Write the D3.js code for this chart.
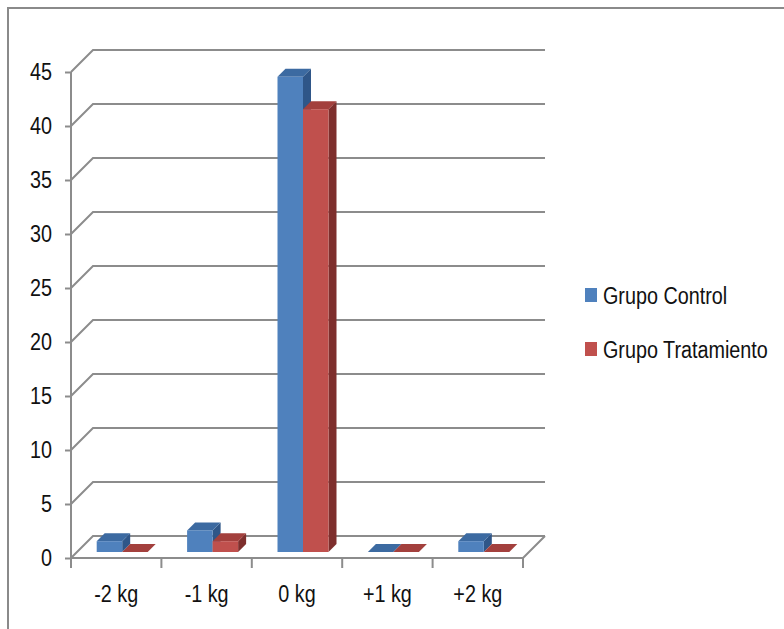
<!DOCTYPE html>
<meta charset="utf-8">
<head>
  <script src="https://cdn.jsdelivr.net/npm/d3@7"></script>
</head>
<style>
  body { margin: 0; background: #fff; }
  text { font-family: "Liberation Sans", Arial, sans-serif; fill: #111; }
</style>
<body></body>
<script>
var categories = ["-2 kg", "-1 kg", "0 kg", "+1 kg", "+2 kg"];
var control = [1, 2, 44, 0, 1];
var tratamiento = [0, 1, 41, 0, 0];
var seriesNames = ["Grupo Control", "Grupo Tratamiento"];
var yTicks = [0, 5, 10, 15, 20, 25, 30, 35, 40, 45];

var width = 784, height = 629;
var depth = 22;      // wall depth offset
var barOff = 6;      // bars sit this far into the floor
var barDepth = 8;
var barW = 25.5;
var squeeze = 0.86;  // narrow the font a bit, the original is Calibri
var fontSize = 23;

var colors = [
  {front: "#4f81bd", top: "#3c6aa1", side: "#2f5688"},
  {front: "#c0504d", top: "#a3403d", side: "#7e2f2d"}
];

var svg = d3.select("body").append("svg")
    .attr("width", width)
    .attr("height", height);

// outer frame (right and bottom edges fall off the picture)
svg.append("path")
    .attr("d", "M8,640 L8,8 L790,8")
    .attr("fill", "none")
    .attr("stroke", "#8a8a8a")
    .attr("stroke-width", 2);

var x = d3.scaleBand().domain(categories).range([71, 523]);
var y = d3.scaleLinear().domain([0, 45]).range([558, 72]);

var grid = "#8c8c8c";

// back wall gridlines with the diagonal to the front axis
svg.append("g").selectAll("path").data(yTicks).join("path")
    .attr("d", function(d) {
      var yy = y(d);
      return "M71," + yy + " L" + (71 + depth) + "," + (yy - depth) + " L" + (523 + depth) + "," + (yy - depth);
    })
    .attr("fill", "none")
    .attr("stroke", grid)
    .attr("stroke-width", 2);

// floor front edge and right diagonal
svg.append("path")
    .attr("d", "M71," + y(0) + " L523," + y(0) + " L" + (523 + depth) + "," + (y(0) - depth))
    .attr("fill", "none")
    .attr("stroke", grid)
    .attr("stroke-width", 2);

// y axis
var yAxis = d3.axisLeft(y).tickValues(yTicks).tickSize(6);
var gy = svg.append("g").attr("transform", "translate(71,0)").call(yAxis);
gy.select(".domain").attr("stroke", grid).attr("stroke-width", 2).attr("d", "M0," + y(45) + "V" + y(0));
gy.selectAll(".tick line").attr("stroke", grid).attr("stroke-width", 2);
gy.selectAll(".tick text")
    .attr("font-size", fontSize).attr("font-family", null).attr("fill", "#111")
    .attr("x", -19 / squeeze)
    .attr("transform", "scale(" + squeeze + ",1)");

// x axis
var xAxis = d3.axisBottom(x).tickSize(0).tickPadding(28);
var gx = svg.append("g").attr("transform", "translate(0," + y(0) + ")").call(xAxis);
gx.select(".domain").remove();
gx.selectAll(".tick text")
    .attr("font-size", fontSize).attr("font-family", null).attr("fill", "#111")
    .attr("transform", "scale(" + squeeze + ",1)");
var edges = d3.range(categories.length + 1).map(function(i) { return 71 + i * x.bandwidth(); });
gx.selectAll(".edge").data(edges).join("line")
    .attr("x1", function(d) { return d; }).attr("x2", function(d) { return d; })
    .attr("y1", 0).attr("y2", 10)
    .attr("stroke", grid).attr("stroke-width", 2);

// bars
var series = [control, tratamiento];
var bars = svg.append("g");
categories.forEach(function(c, i) {
  series.forEach(function(vals, s) {
    var cx = x(c) + x.bandwidth() / 2 + barOff;
    var x0 = cx - barW + s * barW, x1 = x0 + barW;
    var yb = y(0) - barOff, yt = y(vals[i]) - barOff;
    var col = colors[s];
    var g = bars.append("g");
    g.append("path")
        .attr("d", "M" + x1 + "," + yb + " L" + x1 + "," + yt + " L" + (x1 + barDepth) + "," + (yt - barDepth) + " L" + (x1 + barDepth) + "," + (yb - barDepth) + "Z")
        .attr("fill", col.side);
    g.append("path")
        .attr("d", "M" + x0 + "," + yt + " L" + (x0 + barDepth) + "," + (yt - barDepth) + " L" + (x1 + barDepth) + "," + (yt - barDepth) + " L" + x1 + "," + yt + "Z")
        .attr("fill", col.top);
    g.append("rect")
        .attr("x", x0).attr("y", yt)
        .attr("width", barW).attr("height", yb - yt)
        .attr("fill", col.front);
  });
});

// legend
var legend = svg.append("g").attr("transform", "translate(585,288)");
var items = legend.selectAll("g").data(seriesNames).join("g")
    .attr("transform", function(d, i) { return "translate(0," + (i * 54) + ")"; });
items.append("rect").attr("width", 12).attr("height", 14)
    .attr("fill", function(d, i) { return colors[i].front; });
items.append("text")
    .attr("x", 18 / squeeze).attr("y", 16).attr("font-size", fontSize)
    .attr("transform", "scale(" + squeeze + ",1)")
    .text(function(d) { return d; });
</script>
